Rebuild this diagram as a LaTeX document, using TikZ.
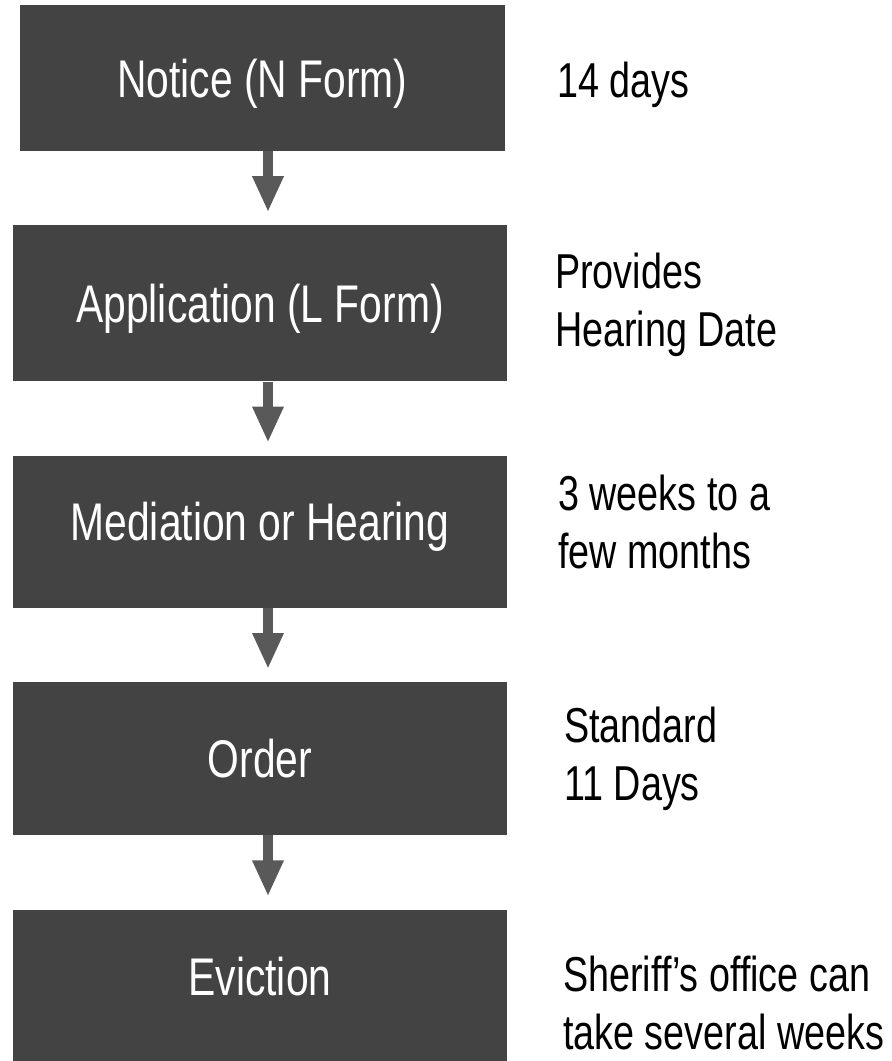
\documentclass[tikz,border=0pt]{standalone}
\usepackage{fontspec}
\setmainfont{Liberation Sans}[FakeStretch=0.77]
\usetikzlibrary{positioning,arrows.meta}

\definecolor{boxgray}{HTML}{434343}
\definecolor{arrowgray}{HTML}{595959}

\tikzset{
  stage/.style={rectangle,fill=boxgray,text=white,inner sep=0pt,
    minimum width=494pt,minimum height=153pt,
    font=\fontsize{53}{60}\selectfont,text height=38pt,text depth=0pt},
  raised/.style={text depth=20pt},
  note/.style={anchor=north west,align=left,inner sep=0pt,
    font=\fontsize{49}{58}\selectfont},
  flow/.style={arrowgray,line width=10pt,-{Triangle[length=36pt,width=29pt]},shorten >=13pt}
}

\begin{document}
\begin{tikzpicture}[x=1pt,y=-1pt,node distance=74pt]
  \useasboundingbox (0,0) rectangle (892,1061);

  % stages
  \node[stage,minimum width=485pt,minimum height=146pt] (notice) at (262.5,78) {Notice (N Form)};
  \node[stage,below=of notice,xshift=-2.5pt,minimum height=156pt] (application) {Application (L Form)};
  \node[stage,below=of application,minimum height=152pt,raised] (hearing) {Mediation or Hearing};
  \node[stage,below=of hearing] (order) {Order};
  \node[stage,below=of order,minimum height=154pt,raised] (eviction) {Eviction};

  % timings
  \node[note] (noticetime)  at (557,62)  {14 days};
  \node[note] (applictime)  at (555,253) {Provides\\Hearing Date};
  \node[note] (hearingtime) at (558,475) {3 weeks to a\\few months};
  \node[note] (ordertime)   at (564,707) {Standard\\11 Days};
  \node[note] (evicttime)   at (563,956) {Sheriff’s office can\\take several weeks};

  % arrows
  \foreach \a/\b in {notice/application,application/hearing,hearing/order,order/eviction}
    \draw[flow] ([xshift=8pt]\b.north |- \a.south) -- ([xshift=8pt]\b.north);
\end{tikzpicture}
\end{document}
